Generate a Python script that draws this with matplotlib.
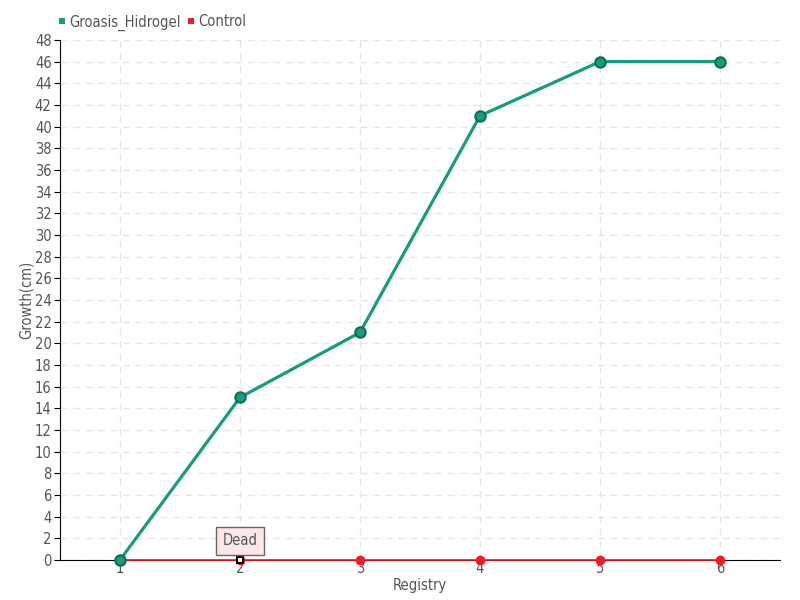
import numpy as np
import matplotlib
matplotlib.use('Agg')
import matplotlib.pyplot as plt

plt.rcParams['font.family'] = ['DejaVu Sans']
plt.rcParams['font.stretch'] = 'condensed'

registry = [1, 2, 3, 4, 5, 6]
groasis = [0, 15, 21, 41, 46, 46]
control = [0, 0, 0, 0, 0, 0]
yticks = list(range(0, 49, 2))

teal = '#179c7d'
red = '#ee1c25'
txt = '#555555'

fig = plt.figure(figsize=(8, 6), dpi=100)
ax = fig.add_axes([0.075, 0.0667, 0.9, 0.8667])

ax.plot(registry, groasis, color=teal, lw=2.3, marker='o', ms=7.5,
        mfc=teal, mec='#0f6e57', mew=1.5, zorder=5, label='Groasis_Hidrogel', clip_on=False)
ax.plot(registry, control, color=red, lw=1.2, marker='o', ms=6,
        mfc=red, mec=red, zorder=4, label='Control', clip_on=False)
ax.plot([2], [0], marker='s', ms=5, mfc='white', mec='black', mew=1.5, zorder=6, clip_on=False)

ax.set_xlim(0.5, 6.5)
ax.set_ylim(0, 48)
ax.set_xticks(registry)
ax.set_yticks(yticks)
ax.grid(True, ls=(0, (5, 4)), color='#e6e6e6', lw=1)
ax.set_axisbelow(True)
for s in ['top', 'right']:
    ax.spines[s].set_visible(False)
ax.spines['left'].set_color('black')
ax.spines['bottom'].set_color('black')
ax.tick_params(axis='y', length=4, color='black', labelcolor=txt, labelsize=10.5, pad=2)
ax.tick_params(axis='x', length=0, labelcolor=txt, labelsize=10.5, pad=1)
ax.set_xlabel('Registry', color=txt, fontsize=10.5, labelpad=1)
ax.set_ylabel('Growth(cm)', color=txt, fontsize=10.5, labelpad=1)

# tooltip
ax.annotate('Dead', xy=(2, 0), xytext=(2, 1.1), textcoords='data',
            ha='center', va='bottom', fontsize=10.5, color=txt,
            bbox=dict(boxstyle='square,pad=0.45', fc='#fde6e6', ec='#666666', lw=1),
            zorder=7)

leg = fig.legend(loc='upper left', bbox_to_anchor=(0.055, 0.998), ncol=2, frameon=False,
                 handlelength=0.6, handletextpad=0.2, columnspacing=0.4, fontsize=10.5)
for h in leg.legend_handles:
    h.set_linestyle('none')
    h.set_marker('s')
    h.set_markersize(5)
    h.set_markeredgewidth(0)
for t in leg.get_texts():
    t.set_color(txt)

fig.savefig('out.png', dpi=100)
